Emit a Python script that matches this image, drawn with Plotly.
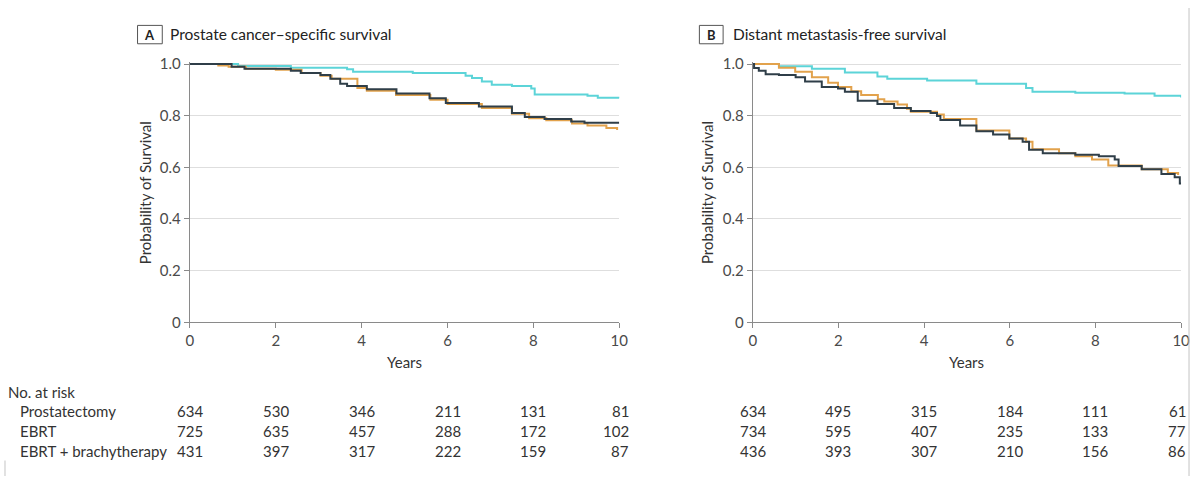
import plotly.graph_objects as go

# ---------------- data ----------------
years_ticks = [0, 2, 4, 6, 8, 10]
y_ticks = [0, 0.2, 0.4, 0.6, 0.8, 1.0]
y_ticktext = ["0", "0.2", "0.4", "0.6", "0.8", "1.0"]

groups = ["Prostatectomy", "EBRT", "EBRT + brachytherapy"]

# Panel A: Prostate cancer-specific survival
A_cyan_t = [0, 1.12, 2.35, 3.66, 3.8, 5.19, 6.42, 6.57, 6.8, 7.03, 7.5, 7.95, 8.03, 9.26, 9.5, 10]
A_cyan_s = [1.0, 0.993, 0.986, 0.980, 0.970, 0.965, 0.955, 0.946, 0.933, 0.920, 0.915, 0.905, 0.882, 0.877, 0.870, 0.868]

A_orange_t = [0, 0.66, 0.9, 1.3, 2.0, 2.6, 3.04, 3.3, 3.9, 4.12, 4.8, 5.6, 6.0, 6.8, 7.5, 7.9, 8.3, 8.9, 9.26, 9.7, 9.95]
A_orange_s = [1.0, 0.995, 0.99, 0.982, 0.978, 0.965, 0.955, 0.943, 0.907, 0.897, 0.88, 0.862, 0.845, 0.83, 0.808, 0.79, 0.782, 0.77, 0.762, 0.752, 0.745]

A_dark_t = [0, 0.97, 1.27, 2.35, 2.58, 3.04, 3.27, 3.5, 3.66, 4.12, 4.81, 5.58, 5.96, 6.73, 7.5, 7.8, 8.26, 8.88, 9.19, 10]
A_dark_s = [1.0, 0.99, 0.982, 0.974, 0.965, 0.958, 0.943, 0.924, 0.915, 0.903, 0.886, 0.868, 0.849, 0.836, 0.811, 0.795, 0.787, 0.778, 0.773, 0.773]

# Panel B: Distant metastasis-free survival
B_cyan_t = [0, 0.61, 1.38, 2.15, 2.91, 3.14, 4.07, 5.22, 6.38, 6.53, 7.53, 8.68, 9.38, 10]
B_cyan_s = [1.0, 0.992, 0.982, 0.967, 0.952, 0.943, 0.936, 0.924, 0.907, 0.893, 0.889, 0.886, 0.877, 0.871]

B_orange_t = [0, 0.61, 0.99, 1.38, 1.76, 1.99, 2.30, 2.53, 2.92, 3.07, 3.38, 3.6, 3.69, 4.3, 4.46, 5.22, 5.99, 6.38, 6.53, 7.15, 7.53, 7.92, 8.3, 9.08, 9.69, 9.93]
B_orange_s = [1.0, 0.986, 0.970, 0.949, 0.928, 0.911, 0.895, 0.880, 0.864, 0.855, 0.843, 0.827, 0.815, 0.805, 0.787, 0.743, 0.712, 0.699, 0.670, 0.655, 0.643, 0.630, 0.607, 0.593, 0.578, 0.570]

B_dark_t = [0, 0.03, 0.14, 0.3, 0.61, 1.0, 1.22, 1.61, 1.99, 2.15, 2.45, 2.91, 3.3, 3.69, 4.15, 4.3, 4.38, 4.84, 5.22, 5.61, 5.99, 6.3, 6.45, 6.77, 7.53, 8.08, 8.45, 8.54, 9.08, 9.54, 9.85, 9.97, 10]
B_dark_s = [1.0, 0.985, 0.974, 0.961, 0.958, 0.949, 0.933, 0.911, 0.905, 0.893, 0.858, 0.845, 0.83, 0.818, 0.811, 0.799, 0.783, 0.762, 0.74, 0.727, 0.712, 0.699, 0.668, 0.655, 0.649, 0.643, 0.63, 0.605, 0.593, 0.574, 0.562, 0.537, 0.537]

# Numbers at risk
A_risk = {
    "Prostatectomy": [634, 530, 346, 211, 131, 81],
    "EBRT": [725, 635, 457, 288, 172, 102],
    "EBRT + brachytherapy": [431, 397, 317, 222, 159, 87],
}
B_risk = {
    "Prostatectomy": [634, 495, 315, 184, 111, 61],
    "EBRT": [734, 595, 407, 235, 133, 77],
    "EBRT + brachytherapy": [436, 393, 307, 210, 156, 86],
}

# ---------------- styling ----------------
W, H = 1200, 484
FONT = "Lato, 'Open Sans', sans-serif"
CYAN = "#5cd4d8"
ORANGE = "#e2a24c"
DARK = "#2f3e48"
TEXT = "#333333"
TICK = "#4a4a4a"
AXIS = "#8a8a8a"
GRID = "#dedede"


def px_x(p):
    return p / W


def px_y(p):
    return 1 - p / H


Y0_PX, Y1_PX = 325, 58
YMAX = 1.008
top_px = Y0_PX - YMAX * (Y0_PX - Y1_PX)

fig = go.Figure()

panels = [
    ("x", "y", (A_cyan_t, A_cyan_s), (A_orange_t, A_orange_s), (A_dark_t, A_dark_s)),
    ("x2", "y2", (B_cyan_t, B_cyan_s), (B_orange_t, B_orange_s), (B_dark_t, B_dark_s)),
]
for xa, ya, cy, org, dk in panels:
    for (t, s), col in [(cy, CYAN), (org, ORANGE), (dk, DARK)]:
        fig.add_trace(go.Scatter(x=t, y=s, xaxis=xa, yaxis=ya, mode="lines",
                                 line=dict(color=col, width=2, shape="hv"),
                                 showlegend=False, hoverinfo="skip"))

XA = (188, 622)
XB = (757, 1190)
xdomA = [px_x(XA[0]), px_x(XA[1])]
xdomB = [px_x(XB[0]), px_x(XB[1])]
ydom = [px_y(Y0_PX), px_y(top_px)]

xcommon = dict(range=[0, 10], tickvals=years_ticks, showgrid=False, zeroline=False,
               showline=True, linecolor=AXIS, linewidth=1.3, ticks="outside",
               ticklen=5, tickcolor=AXIS, tickwidth=1.3,
               tickfont=dict(family=FONT, size=15, color=TICK))
ycommon = dict(range=[0, YMAX], tickvals=y_ticks, ticktext=y_ticktext, showgrid=True,
               gridcolor=GRID, gridwidth=1, zeroline=False, showline=True,
               linecolor=AXIS, linewidth=1.3, ticks="outside", ticklen=5,
               tickcolor=AXIS, tickwidth=1.3,
               tickfont=dict(family=FONT, size=15, color=TICK))

fig.update_layout(
    width=W, height=H, margin=dict(l=0, r=0, t=0, b=0),
    paper_bgcolor="white", plot_bgcolor="white",
    xaxis=dict(domain=xdomA, anchor="y", **xcommon),
    yaxis=dict(domain=ydom, anchor="x", **ycommon),
    xaxis2=dict(domain=xdomB, anchor="y2", **xcommon),
    yaxis2=dict(domain=ydom, anchor="x2", **ycommon),
    font=dict(family=FONT, color=TEXT),
)

annotations = []
shapes = []

# Panel titles with boxed letters
for letter, title, box_l, box_r, text_x in [
    ("A", "Prostate cancer–specific survival", 135, 160, 166),
    ("B", "Distant metastasis-free survival", 703, 727, 735),
]:
    shapes.append(dict(type="rect", xref="paper", yref="paper",
                       x0=px_x(box_l), x1=px_x(box_r), y0=px_y(37), y1=px_y(18),
                       line=dict(color="#555555", width=1), fillcolor="white"))
    annotations.append(dict(xref="paper", yref="paper", x=px_x((box_l + box_r) / 2), y=px_y(27.5),
                            text=f"<b>{letter}</b>", showarrow=False, xanchor="center", yanchor="middle",
                            font=dict(family=FONT, size=13, color="#222222")))
    annotations.append(dict(xref="paper", yref="paper", x=px_x(text_x), y=px_y(27),
                            text=title, showarrow=False, xanchor="left", yanchor="middle",
                            font=dict(family=FONT, size=15.5, color="#222222")))

# Axis titles
for cx_y, cx_years in [(142, 405), (710, 973)]:
    annotations.append(dict(xref="paper", yref="paper", x=px_x(cx_y), y=px_y(191),
                            text="Probability of Survival", showarrow=False, textangle=-90,
                            xanchor="center", yanchor="middle",
                            font=dict(family=FONT, size=15, color=TEXT)))
    annotations.append(dict(xref="paper", yref="paper", x=px_x(cx_years), y=px_y(366),
                            text="Years", showarrow=False, xanchor="center", yanchor="middle",
                            font=dict(family=FONT, size=15, color=TEXT)))

# Number at risk table
annotations.append(dict(xref="paper", yref="paper", x=px_x(2), y=px_y(397),
                        text="No. at risk", showarrow=False, xanchor="left", yanchor="middle",
                        font=dict(family=FONT, size=15, color=TEXT)))
row_y = [417, 437.5, 458]
last_right = {"A": 634, "B": 1197}
for gi, g in enumerate(groups):
    annotations.append(dict(xref="paper", yref="paper", x=px_x(14), y=px_y(row_y[gi]),
                            text=g, showarrow=False, xanchor="left", yanchor="middle",
                            font=dict(family=FONT, size=15, color=TEXT)))
    for key, xref, risk in [("A", "x", A_risk), ("B", "x2", B_risk)]:
        for ti, t in enumerate(years_ticks):
            last = ti == len(years_ticks) - 1
            if last:
                annotations.append(dict(xref="paper", yref="paper",
                                        x=px_x(last_right[key]), y=px_y(row_y[gi]),
                                        text=str(risk[g][ti]), showarrow=False,
                                        xanchor="right", yanchor="middle",
                                        font=dict(family=FONT, size=15, color=TEXT)))
            else:
                annotations.append(dict(xref=xref, yref="paper", x=t, y=px_y(row_y[gi]),
                                        text=str(risk[g][ti]), showarrow=False,
                                        xanchor="center", yanchor="middle",
                                        font=dict(family=FONT, size=15, color=TEXT)))

# faint page border lines
shapes.append(dict(type="line", xref="paper", yref="paper", x0=px_x(1198), x1=px_x(1198),
                   y0=0, y1=1, line=dict(color="#c4c4c4", width=1)))
shapes.append(dict(type="line", xref="paper", yref="paper", x0=px_x(1), x1=px_x(1),
                   y0=0, y1=px_y(468), line=dict(color="#c4c4c4", width=1)))

fig.update_layout(annotations=annotations, shapes=shapes)
fig.write_html("out.html")
